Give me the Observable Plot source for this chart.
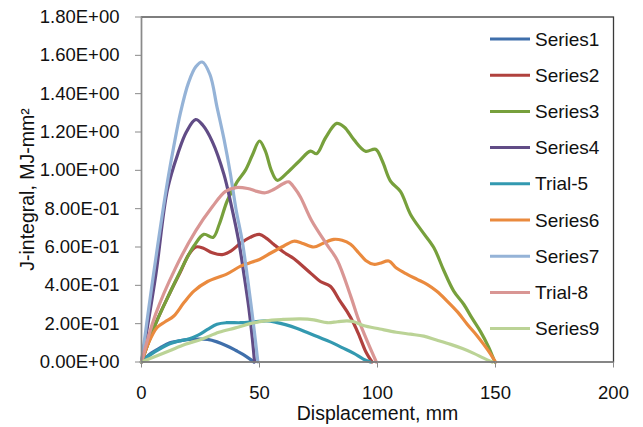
<!DOCTYPE html>
<html>
<head>
<meta charset="utf-8">
<script src="https://cdn.jsdelivr.net/npm/d3@7"></script>
<script src="https://cdn.jsdelivr.net/npm/@observablehq/plot@0.6"></script>
<style>
  html, body { margin: 0; padding: 0; background: #fff; }
  #wrap { position: relative; width: 643px; height: 427px; font-family: "Liberation Sans", Arial, sans-serif; }
  #legend { position: absolute; left: 480px; top: 20px; }
</style>
</head>
<body>
<div id="wrap"></div>
<script>
// ---- data ----
const seriesNames = ["Series1","Series2","Series3","Series4","Trial-5","Series6","Series7","Trial-8","Series9"];

const disp1 = [0,4,8,12,16,20,24,28,32,36,40,43,46,47.6];
const jint1 = [0,0.045,0.075,0.1,0.11,0.118,0.12,0.118,0.105,0.085,0.06,0.04,0.015,0];

const disp2 = [0,6,12,16.5,20,23,26,30,34.2,38,42,46,50,53,56,60,64.5,67.4,72,75.8,80,84,87,90,92.5,95,97.7];
const jint2 = [0,0.2,0.36,0.47,0.56,0.6,0.595,0.57,0.56,0.58,0.62,0.65,0.666,0.645,0.614,0.575,0.54,0.51,0.46,0.42,0.395,0.32,0.265,0.2,0.13,0.055,0];

const disp3 = [0,6,12,16.5,20,22.2,26.4,30.3,33,36.3,40.5,44,47,50,52.5,55,57.5,62,67,71.6,74.2,78,82.7,86,90,94.9,99.2,102,105.5,109.7,114,119,123.9,128,132.3,136.6,140,143.6,147,149.7];
const jint3 = [0,0.2,0.36,0.475,0.56,0.605,0.666,0.65,0.72,0.84,0.94,1.0,1.08,1.153,1.1,1.0,0.948,0.99,1.05,1.1,1.087,1.17,1.245,1.225,1.16,1.1,1.11,1.05,0.944,0.89,0.77,0.68,0.596,0.48,0.37,0.3,0.23,0.16,0.08,0];

const disp4 = [0,6,11,15.5,19,22.9,26,30,34.9,38,41.2,43.5,45.5,47,47.9];
const jint4 = [0,0.45,0.9,1.09,1.2,1.265,1.235,1.15,0.98,0.82,0.63,0.45,0.28,0.12,0];

const disp5 = [0,4,8,12,16,20,24,28,32,36,42,48,53,57,61,66,70,75,80,85,90,94,97];
const jint5 = [0,0.04,0.07,0.095,0.11,0.12,0.14,0.17,0.197,0.205,0.205,0.21,0.214,0.207,0.195,0.175,0.155,0.13,0.105,0.075,0.045,0.015,0];

const disp6 = [0,3,6.6,10,13.7,18,22.2,28,36.3,42,46,50,55,60.3,64.5,68,73,77,81.5,85,88.6,92,95,98.4,101,104.8,108,112.6,117,121,125,129.5,134,138,142,145,148,150];
const jint6 = [0,0.1,0.18,0.21,0.24,0.31,0.37,0.42,0.46,0.5,0.518,0.535,0.57,0.605,0.63,0.62,0.6,0.62,0.64,0.635,0.614,0.57,0.53,0.51,0.515,0.527,0.49,0.457,0.43,0.405,0.37,0.318,0.26,0.197,0.14,0.092,0.04,0];

const disp7 = [0,5,11,13.6,16.5,20,23,25.7,29,32,35,37.7,40,42.7,45,46.6,48,49.3];
const jint7 = [0,0.45,0.94,1.12,1.3,1.46,1.54,1.565,1.5,1.33,1.16,0.98,0.8,0.63,0.43,0.28,0.14,0];

const disp8 = [0,6,14.4,22.9,30,35.6,40,45,49,52.5,56,60,62.4,65,67.4,72,78.7,83,88.6,92,95.6,99.5];
const jint8 = [0,0.25,0.49,0.683,0.81,0.89,0.91,0.905,0.89,0.883,0.9,0.93,0.94,0.905,0.86,0.74,0.61,0.53,0.345,0.22,0.11,0];

const disp9 = [0,5,11.6,18.6,25.7,32.8,39.8,46,52.5,60,67.4,73,78.7,83,87,90,94,101,108,114,119.6,125,131,136,140.8,145,148.6];
const jint9 = [0,0.025,0.057,0.092,0.12,0.155,0.178,0.2,0.215,0.222,0.225,0.22,0.205,0.21,0.215,0.21,0.19,0.172,0.155,0.145,0.135,0.115,0.092,0.07,0.045,0.02,0];

const xTicks = [0,50,100,150,200];
const yTicks = [0,0.2,0.4,0.6,0.8,1.0,1.2,1.4,1.6,1.8];
const yTickLabels = ["0.00E+00","2.00E-01","4.00E-01","6.00E-01","8.00E-01","1.00E+00","1.20E+00","1.40E+00","1.60E+00","1.80E+00"];
const xTitle = "Displacement, mm";
const yTitle = "J-integral, MJ-mm²";

// ---- styles ----
const seriesColors = ["#3f6fab","#b0413e","#77a03c","#614c86","#3399b0","#ea8a3e","#95b3d7","#d99694","#bbd396"];
const font = "'Liberation Sans', Arial, sans-serif";

const allDisp = [disp1,disp2,disp3,disp4,disp5,disp6,disp7,disp8,disp9];
const allJ = [jint1,jint2,jint3,jint4,jint5,jint6,jint7,jint8,jint9];
const rows = [];
seriesNames.forEach((name, i) => {
  allDisp[i].forEach((x, k) => rows.push({series: name, x, y: allJ[i][k]}));
});

const chart = Plot.plot({
  width: 643,
  height: 427,
  marginLeft: 141,
  marginRight: 30,
  marginTop: 16.5,
  marginBottom: 65.5,
  style: {fontFamily: font, fontSize: "18.5px", background: "#fff", color: "#111", overflow: "visible"},
  x: {domain: [0, 200]},
  y: {domain: [0, 1.8]},
  color: {domain: seriesNames, range: seriesColors},
  marks: [
    Plot.line(rows, {x: "x", y: "y", z: "series", stroke: "series", strokeWidth: 3.2, curve: "catmull-rom"}),
    Plot.frame({stroke: "#3a3a3a", strokeWidth: 1.3}),
    Plot.ruleX([0], {stroke: "#8a8a8a", strokeWidth: 1.3}),
    Plot.ruleY([0], {stroke: "#8a8a8a", strokeWidth: 1.3}),
    Plot.axisX({ticks: xTicks, tickSize: 6, tickPadding: 18, stroke: "#8a8a8a", fill: "#111", label: null, fontSize: 18.5}),
    Plot.axisY({ticks: yTicks, tickSize: 6, tickPadding: 16, stroke: "#8a8a8a", fill: "#111", label: null, fontSize: 18.5,
      tickFormat: d => yTickLabels[yTicks.findIndex(t => Math.abs(t - d) < 1e-9)]}),
    Plot.text([xTitle], {frameAnchor: "bottom", dy: 52, text: d => d, fontSize: 19.5, fill: "#111", lineAnchor: "middle"}),
    Plot.text([yTitle], {frameAnchor: "left", dx: -114, text: d => d, fontSize: 19.5, fill: "#111", rotate: -90, lineAnchor: "middle", textAnchor: "middle"})
  ]
});
document.getElementById("wrap").appendChild(chart);

// ---- legend (inside plot area, right side) ----
const leg = d3.select("#wrap").append("svg").attr("id", "legend").attr("width", 130).attr("height", 330);
const rowGap = 36.2;
seriesNames.forEach((name, i) => {
  const g = leg.append("g").attr("transform", `translate(0,${19 + i * rowGap})`);
  g.append("line").attr("x1", 10).attr("x2", 50).attr("y1", 0).attr("y2", 0)
    .attr("stroke", seriesColors[i]).attr("stroke-width", 3);
  g.append("text").attr("x", 55).attr("y", 0).attr("dy", "0.35em")
    .attr("font-family", font).attr("font-size", 19).attr("fill", "#111").text(name);
});
</script>
</body>
</html>
